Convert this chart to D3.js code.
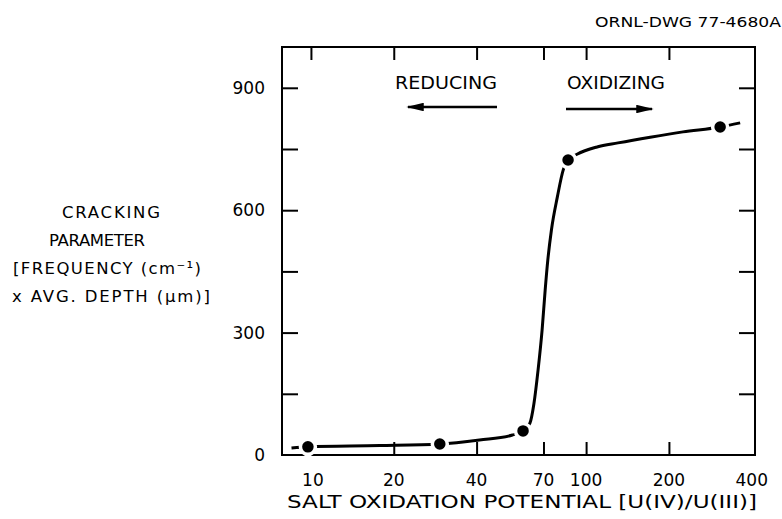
<!DOCTYPE html>
<html>
<head>
<meta charset="utf-8">
<script src="https://cdn.jsdelivr.net/npm/d3@7"></script>
<style>
  html, body { margin: 0; padding: 0; background: #fff; }
  svg { display: block; }
  text { font-family: "DejaVu Sans", sans-serif; fill: #000; }
</style>
</head>
<body>
<svg id="chart" width="782" height="519"></svg>
<script>
// ---- data ----
const xTickValues = [10, 20, 40, 70, 100, 200, 400];
const xTickLabels = ["10", "20", "40", "70", "100", "200", "400"];
const xInnerTicks = [10, 20, 40, 70, 100, 200];
const yTickValues = [150, 300, 450, 600, 750, 900];
const yLabelValues = [0, 300, 600, 900];
const yLabelTexts = ["0", "300", "600", "900"];

// measured points
const pointX = [9.75, 29.4, 59, 86, 307];
const pointY = [20, 27, 59, 723, 804];

// hand-drawn fitted curve
const curveX = [8.5, 9.75, 17.8, 29.4, 41, 54, 59, 62.5, 64.6, 66.9, 69.2, 71, 72.6, 74.8, 78.6, 82.7, 86, 92.7, 109.6, 130.6, 171, 225, 307, 363];
const curveY = [17, 20, 23, 27, 37, 49, 59, 78, 125, 208, 306, 404, 478, 551, 632, 700, 723, 737, 755, 765, 779, 792, 804, 814];

const yTitleLines = ["CRACKING", "PARAMETER", "[FREQUENCY (cm\u207B\u00B9)", "x AVG. DEPTH (\u03BCm)]"];

// ---- layout ----
const svg = d3.select("#chart");
const pLeft = 282, pRight = 755, pTop = 47, pBottom = 455;

const x = d3.scaleLog().domain([7.85, 411]).range([pLeft, pRight]);
const y = d3.scaleLinear().domain([0, 1000]).range([pBottom, pTop]);

// frame
svg.append("rect")
  .attr("x", pLeft).attr("y", pTop)
  .attr("width", pRight - pLeft).attr("height", pBottom - pTop)
  .attr("fill", "none").attr("stroke", "#000").attr("stroke-width", 2);

// inward ticks using axes
const tickStyle = g => {
  g.select(".domain").remove();
  g.selectAll("line").attr("stroke", "#000").attr("stroke-width", 2);
  g.selectAll("text").remove();
};
svg.append("g").attr("transform", `translate(0,${pBottom})`)
  .call(d3.axisTop(x).tickValues(xInnerTicks).tickSize(13)).call(tickStyle);
svg.append("g").attr("transform", `translate(0,${pTop})`)
  .call(d3.axisBottom(x).tickValues(xInnerTicks).tickSize(13)).call(tickStyle);
svg.append("g").attr("transform", `translate(${pLeft},0)`)
  .call(d3.axisRight(y).tickValues(yTickValues).tickSize(16)).call(tickStyle);
svg.append("g").attr("transform", `translate(${pRight},0)`)
  .call(d3.axisLeft(y).tickValues(yTickValues).tickSize(16)).call(tickStyle);

// tick labels
svg.append("g").selectAll("text").data(xTickValues).join("text")
  .attr("x", (d, i) => x(d) + (i === 0 ? 2 : 0))
  .attr("y", 486)
  .attr("text-anchor", "middle")
  .attr("font-size", 17)
  .text((d, i) => xTickLabels[i]);

svg.append("g").selectAll("text").data(yLabelValues).join("text")
  .attr("x", 265)
  .attr("y", d => y(d) + 6)
  .attr("text-anchor", "end")
  .attr("font-size", 17)
  .text((d, i) => yLabelTexts[i]);

// curve
const line = d3.line().x((d, i) => x(curveX[i])).y((d, i) => y(curveY[i])).curve(d3.curveMonotoneX);
svg.append("path")
  .attr("d", line(curveX))
  .attr("fill", "none").attr("stroke", "#000").attr("stroke-width", 3);

// points
svg.append("g").selectAll("circle").data(pointX).join("circle")
  .attr("cx", d => x(d))
  .attr("cy", (d, i) => y(pointY[i]))
  .attr("r", 7.5)
  .attr("fill", "#000")
  .attr("stroke", "#fff").attr("stroke-width", 3.5);

// annotations
svg.append("text").attr("x", 395).attr("y", 89).attr("font-size", 17)
  .attr("textLength", 102).attr("lengthAdjust", "spacingAndGlyphs").text("REDUCING");
svg.append("text").attr("x", 567).attr("y", 89).attr("font-size", 17)
  .attr("textLength", 98).attr("lengthAdjust", "spacingAndGlyphs").text("OXIDIZING");

svg.append("defs").append("marker")
  .attr("id", "ah").attr("viewBox", "0 0 10 10").attr("refX", 9).attr("refY", 5)
  .attr("markerWidth", 7).attr("markerHeight", 3.4).attr("markerUnits", "strokeWidth")
  .attr("orient", "auto").attr("preserveAspectRatio", "none")
  .append("path").attr("d", "M0,0 L10,5 L0,10 Z").attr("fill", "#000");

svg.append("line").attr("x1", 497).attr("y1", 107).attr("x2", 408).attr("y2", 107)
  .attr("stroke", "#000").attr("stroke-width", 2.5).attr("marker-end", "url(#ah)");
svg.append("line").attr("x1", 566).attr("y1", 109).attr("x2", 652).attr("y2", 109)
  .attr("stroke", "#000").attr("stroke-width", 2.5).attr("marker-end", "url(#ah)");

// header
svg.append("text").attr("x", 595).attr("y", 27).attr("font-size", 14)
  .attr("textLength", 186).attr("lengthAdjust", "spacingAndGlyphs").text("ORNL-DWG 77-4680A");

// axis titles
svg.append("text").attr("x", 287).attr("y", 508).attr("font-size", 18)
  .attr("textLength", 470).attr("lengthAdjust", "spacingAndGlyphs")
  .text("SALT OXIDATION POTENTIAL [U(IV)/U(III)]");

const yTitleX = [62, 49, 13, 12];
const yTitleW = [98, 96, 188, 198];
const yTitleY = [218, 246, 274, 302];
svg.append("g").selectAll("text").data(yTitleLines).join("text")
  .attr("x", (d, i) => yTitleX[i])
  .attr("y", (d, i) => yTitleY[i])
  .attr("font-size", 16.5)
  .attr("textLength", (d, i) => yTitleW[i])
  .attr("lengthAdjust", "spacing")
  .text(d => d);
</script>
</body>
</html>
